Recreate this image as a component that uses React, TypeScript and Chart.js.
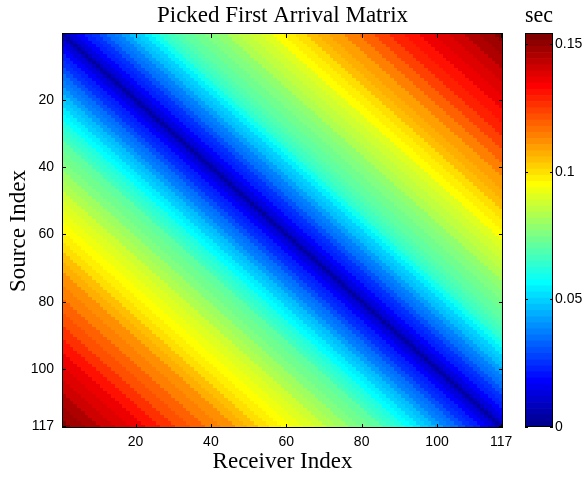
import React, { useEffect, useRef } from 'react';
import { Chart, registerables } from 'chart.js';

Chart.register(...registerables);

// ---------------- data ----------------
const sourceCount = 117;
const receiverCount = 117;
const receiverTicks = [20, 40, 60, 80, 100, 117];
const sourceTicks = [20, 40, 60, 80, 100, 117];
const colorTicks = [0, 0.05, 0.1, 0.15];
const colorMin = 0;
const colorMax = 0.1541;

// offsets |receiver - source| at which the arrival times were read
const offsetSamples = [
  0, 1, 2, 4, 6, 8, 10, 12, 14, 16, 18, 20, 22, 24, 26, 28, 30, 33, 36, 39, 42,
  45, 48, 51, 54, 57, 60, 63, 66, 69, 72, 76, 80, 84, 88, 92, 96, 100, 104, 108, 112, 116,
];
// picked first arrival (sec), receiver index > source index (upper triangle)
const upperArrival = [
  0.003, 0.009, 0.014, 0.018, 0.022, 0.026, 0.030, 0.034, 0.038, 0.042, 0.046, 0.050,
  0.055, 0.060, 0.064, 0.067, 0.069, 0.072, 0.074, 0.076, 0.079, 0.082, 0.085, 0.088,
  0.091, 0.095, 0.098, 0.101, 0.104, 0.107, 0.110, 0.115, 0.119, 0.124, 0.128, 0.132,
  0.136, 0.139, 0.142, 0.145, 0.148, 0.152,
];
// picked first arrival (sec), receiver index < source index (lower triangle)
const lowerArrival = [
  0.003, 0.009, 0.014, 0.018, 0.022, 0.026, 0.030, 0.034, 0.038, 0.042, 0.046, 0.050,
  0.053, 0.057, 0.061, 0.064, 0.067, 0.071, 0.073, 0.076, 0.080, 0.083, 0.087, 0.090,
  0.093, 0.096, 0.098, 0.101, 0.104, 0.107, 0.111, 0.114, 0.118, 0.122, 0.127, 0.131,
  0.135, 0.138, 0.141, 0.145, 0.149, 0.153,
];

// ---------------- helpers ----------------
const SERIF = '"Liberation Serif", "Times New Roman", Times, serif';
const SANS = '"Liberation Sans", Arial, Helvetica, sans-serif';

function jet(n: number): string[] {
  const m = Math.ceil(n / 4);
  const u: number[] = [];
  for (let i = 1; i <= m; i++) u.push(i / m);
  for (let i = 1; i < m; i++) u.push(1);
  for (let i = m; i >= 1; i--) u.push(i / m);
  const g0 = Math.ceil(m / 2) - (n % 4 === 1 ? 1 : 0);
  const rgb = Array.from({ length: n }, () => [0, 0, 0]);
  u.forEach((val, k) => {
    const g = g0 + k + 1;
    const r = g + m;
    const b = g - m;
    if (r >= 1 && r <= n) rgb[r - 1][0] = val;
    if (g >= 1 && g <= n) rgb[g - 1][1] = val;
    if (b >= 1 && b <= n) rgb[b - 1][2] = val;
  });
  return rgb.map(
    ([r, g, b]) => `rgb(${Math.round(r * 255)},${Math.round(g * 255)},${Math.round(b * 255)})`
  );
}
const JET = jet(64);

function colorFor(v: number): string {
  let idx = Math.floor(((v - colorMin) / (colorMax - colorMin)) * JET.length);
  if (idx < 0) idx = 0;
  if (idx > JET.length - 1) idx = JET.length - 1;
  return JET[idx];
}

function arrivalAt(source: number, receiver: number): number {
  const d = Math.abs(receiver - source);
  let best = 0;
  for (let k = 1; k < offsetSamples.length; k++) {
    if (Math.abs(offsetSamples[k] - d) < Math.abs(offsetSamples[best] - d)) best = k;
  }
  return receiver >= source ? upperArrival[best] : lowerArrival[best];
}

type Cell = { x: number; y: number; v: number };

function buildCells(): Cell[] {
  const cells: Cell[] = [];
  for (let s = 1; s <= sourceCount; s++) {
    for (let r = 1; r <= receiverCount; r++) {
      cells.push({ x: r, y: s, v: arrivalAt(s, r) });
    }
  }
  return cells;
}

const heatmapPlugin = {
  id: 'heatmapCells',
  beforeDatasetsDraw(chart: any) {
    const { ctx, chartArea, scales } = chart;
    const xs = scales.x;
    const ys = scales.y;
    const cells = chart.data.datasets[0].data as Cell[];
    ctx.save();
    ctx.beginPath();
    ctx.rect(chartArea.left, chartArea.top, chartArea.right - chartArea.left, chartArea.bottom - chartArea.top);
    ctx.clip();
    for (const c of cells) {
      const x0 = Math.round(xs.getPixelForValue(c.x - 0.5));
      const x1 = Math.round(xs.getPixelForValue(c.x + 0.5));
      const ya = Math.round(ys.getPixelForValue(c.y - 0.5));
      const yb = Math.round(ys.getPixelForValue(c.y + 0.5));
      ctx.fillStyle = colorFor(c.v);
      ctx.fillRect(Math.min(x0, x1), Math.min(ya, yb), Math.abs(x1 - x0), Math.abs(yb - ya));
    }
    ctx.restore();
  },
};

const frameTickLen = 4;
const mainFramePlugin = {
  id: 'mainFrame',
  afterDraw(chart: any) {
    const { ctx, chartArea, scales } = chart;
    const { left, right, top, bottom } = chartArea;
    ctx.save();
    ctx.strokeStyle = '#000';
    ctx.lineWidth = 1;
    ctx.beginPath();
    for (const t of receiverTicks) {
      const px = Math.round(scales.x.getPixelForValue(t)) + 0.5;
      ctx.moveTo(px, bottom);
      ctx.lineTo(px, bottom - frameTickLen);
      ctx.moveTo(px, top);
      ctx.lineTo(px, top + frameTickLen);
    }
    for (const t of sourceTicks) {
      const py = Math.round(scales.y.getPixelForValue(t)) + 0.5;
      ctx.moveTo(left, py);
      ctx.lineTo(left + frameTickLen, py);
      ctx.moveTo(right, py);
      ctx.lineTo(right - frameTickLen, py);
    }
    ctx.stroke();
    ctx.strokeRect(Math.round(left) + 0.5, Math.round(top) - 0.5, Math.round(right) - Math.round(left) - 1, Math.round(bottom) - Math.round(top));
    ctx.restore();
  },
};

const barFramePlugin = {
  id: 'barFrame',
  afterDraw(chart: any) {
    const { ctx, chartArea, scales } = chart;
    const { left, right, top, bottom } = chartArea;
    ctx.save();
    ctx.strokeStyle = '#000';
    ctx.lineWidth = 1;
    ctx.beginPath();
    for (const t of colorTicks) {
      const py = Math.round(scales.y.getPixelForValue(t)) + 0.5;
      ctx.moveTo(left, py);
      ctx.lineTo(left + 3, py);
      ctx.moveTo(right, py);
      ctx.lineTo(right - 3, py);
    }
    ctx.stroke();
    ctx.strokeRect(Math.round(left) + 0.5, Math.round(top) - 0.5, Math.round(right) - Math.round(left) - 1, Math.round(bottom) - Math.round(top));
    ctx.restore();
  },
};

export default function App() {
  const mainRef = useRef<HTMLCanvasElement | null>(null);
  const barRef = useRef<HTMLCanvasElement | null>(null);

  useEffect(() => {
    if (!mainRef.current || !barRef.current) return;
    const cells = buildCells();

    const main = new Chart(mainRef.current, {
      type: 'scatter',
      data: {
        datasets: [
          {
            data: cells as any,
            pointRadius: 0,
            pointHoverRadius: 0,
            showLine: false,
          },
        ],
      },
      options: {
        responsive: false,
        animation: false,
        events: [],
        devicePixelRatio: 1,
        layout: { padding: { left: 0, right: 85, top: 0, bottom: 0 } },
        plugins: {
          legend: { display: false },
          tooltip: { enabled: false },
          title: {
            display: true,
            text: 'Picked First Arrival Matrix',
            fullSize: false,
            color: '#000',
            font: { family: SERIF, size: 23, weight: 'normal', lineHeight: 1.2 },
            padding: { top: 2, bottom: 4.4 },
          },
        },
        scales: {
          x: {
            type: 'linear',
            position: 'bottom',
            min: 0.5,
            max: receiverCount + 0.5,
            grid: { display: false, drawTicks: false },
            border: { display: false },
            afterBuildTicks: (s: any) => {
              s.ticks = receiverTicks.map((v) => ({ value: v }));
            },
            afterFit: (s: any) => {
              s.height = 49;
            },
            ticks: {
              autoSkip: false,
              maxRotation: 0,
              padding: 6,
              color: '#000',
              font: { family: SANS, size: 14 },
              callback: (v: any) => String(v),
            },
            title: {
              display: true,
              text: 'Receiver Index',
              color: '#000',
              font: { family: SERIF, size: 23, lineHeight: 1.2 },
              padding: { top: 0, bottom: 1.2 },
            },
          },
          y: {
            type: 'linear',
            position: 'left',
            reverse: true,
            min: 0.5,
            max: sourceCount + 0.5,
            grid: { display: false, drawTicks: false },
            border: { display: false },
            afterBuildTicks: (s: any) => {
              s.ticks = sourceTicks.map((v) => ({ value: v }));
            },
            afterFit: (s: any) => {
              s.width = 62;
            },
            ticks: {
              autoSkip: false,
              padding: 8,
              color: '#000',
              font: { family: SANS, size: 14 },
              callback: (v: any) => String(v),
            },
            title: {
              display: true,
              text: 'Source Index',
              color: '#000',
              font: { family: SERIF, size: 23, lineHeight: 1.2 },
              padding: { top: 4.7, bottom: 0 },
            },
          },
        },
      } as any,
      plugins: [heatmapPlugin, mainFramePlugin],
    });

    const step = (colorMax - colorMin) / JET.length;
    const bar = new Chart(barRef.current, {
      type: 'bar',
      data: {
        labels: ['sec'],
        datasets: JET.map((c) => ({
          data: [step],
          backgroundColor: c,
          borderWidth: 0,
          barPercentage: 1,
          categoryPercentage: 1,
          stack: 'cb',
        })),
      },
      options: {
        responsive: false,
        animation: false,
        events: [],
        devicePixelRatio: 1,
        layout: { padding: { left: 25, right: 0, top: 0, bottom: 50 } },
        plugins: {
          legend: { display: false },
          tooltip: { enabled: false },
          title: {
            display: true,
            text: 'sec',
            fullSize: false,
            color: '#000',
            font: { family: SERIF, size: 23, weight: 'normal', lineHeight: 1.2 },
            padding: { top: 2, bottom: 4.4 },
          },
        },
        scales: {
          x: { display: false, stacked: true },
          y: {
            type: 'linear',
            position: 'right',
            stacked: true,
            min: colorMin,
            max: colorMax,
            grid: { display: false, drawTicks: false },
            border: { display: false },
            afterBuildTicks: (s: any) => {
              s.ticks = colorTicks.map((v) => ({ value: v }));
            },
            afterFit: (s: any) => {
              s.width = 35;
            },
            ticks: {
              autoSkip: false,
              padding: 2,
              color: '#000',
              font: { family: SANS, size: 14 },
              callback: (v: any) => String(v),
            },
          },
        },
      } as any,
      plugins: [barFramePlugin],
    });

    return () => {
      main.destroy();
      bar.destroy();
    };
  }, []);

  return (
    <div style={{ position: 'fixed', left: 0, top: 0, width: 588, height: 477, background: '#fff', overflow: 'hidden' }}>
      <canvas ref={mainRef} width={588} height={477} style={{ position: 'absolute', left: 0, top: 0, width: 588, height: 477 }} />
      <canvas ref={barRef} width={88} height={477} style={{ position: 'absolute', left: 500, top: 0, width: 88, height: 477 }} />
    </div>
  );
}
